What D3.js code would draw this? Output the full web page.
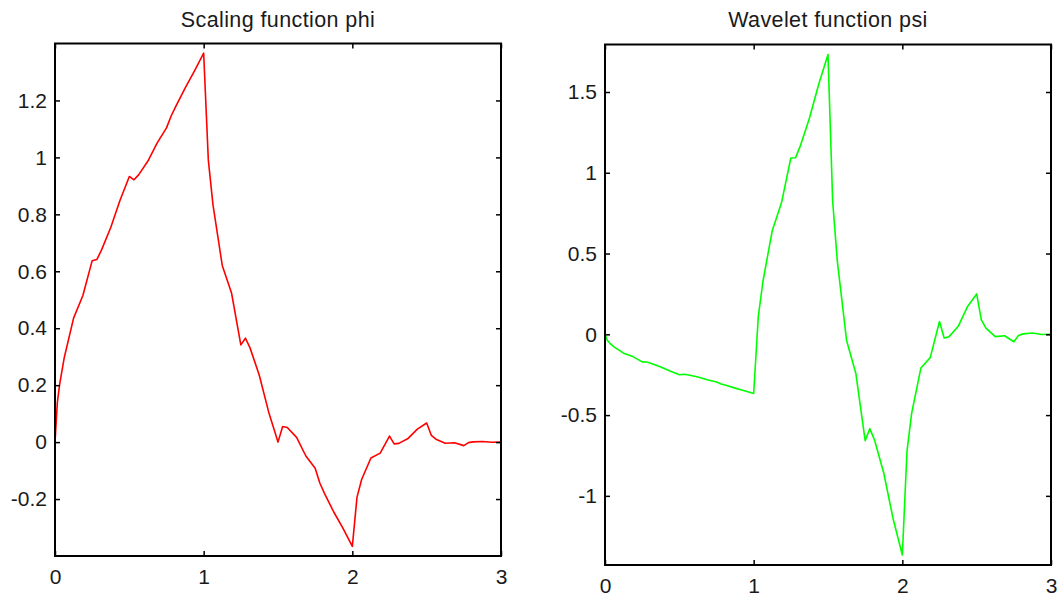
<!DOCTYPE html>
<html>
<head>
<meta charset="utf-8">
<script src="https://cdn.jsdelivr.net/npm/d3@7"></script>
<style>
  body { margin: 0; background: #fff; }
  svg { display: block; }
  .axis text { font-family: "Liberation Sans", Arial, sans-serif; font-size: 21px; fill: #1a1a1a; }
  .axis path, .axis line { stroke: #000; }
  .title { font-family: "Liberation Sans", Arial, sans-serif; font-size: 21.5px; letter-spacing: 0.4px; fill: #1a1a1a; }
</style>
</head>
<body>
<svg id="chart" width="1061" height="597"></svg>
<script>
const tGrid = [0, 0.015625, 0.03125, 0.0625, 0.125, 0.1875, 0.25, 0.28125, 0.3125, 0.375, 0.4375,
    0.5, 0.53125, 0.5625, 0.625, 0.6875, 0.75, 0.78125, 0.8125, 0.875, 0.9375,
    1, 1.03125, 1.0625, 1.125, 1.1875, 1.25, 1.28125, 1.3125, 1.375, 1.4375,
    1.5, 1.53125, 1.5625, 1.625, 1.6875, 1.75, 1.78125, 1.8125, 1.875, 1.9375,
    2, 2.03125, 2.0625, 2.125, 2.1875, 2.25, 2.28125, 2.3125, 2.375, 2.4375,
    2.5, 2.53125, 2.5625, 2.625, 2.6875, 2.75, 2.78125, 2.8125, 2.875, 2.9375, 3];

const phiValues = [0, 0.1387, 0.2030, 0.2973, 0.4353, 0.5149, 0.6373, 0.6412, 0.6742, 0.7539, 0.8492,
    0.9330, 0.9213, 0.9387, 0.9871, 1.0512, 1.1038, 1.1454, 1.1792, 1.2433, 1.3031,
    1.3660, 0.9912, 0.8340, 0.6205, 0.5237, 0.3415, 0.3649, 0.3301, 0.2333, 0.1052,
    0, 0.0547, 0.0511, 0.0167, -0.0488, -0.0915, -0.1435, -0.1799, -0.2455, -0.3027,
    -0.3660, -0.1942, -0.1312, -0.0558, -0.0386, 0.0212, -0.0061, -0.0043, 0.0129, 0.0456,
    0.0670, 0.0240, 0.0102, -0.0039, -0.0024, -0.0123, -0.0019, 0.0007, 0.0022, -0.0004, 0];

const psiValues = [0, -0.0372, -0.0544, -0.0797, -0.1166, -0.1380, -0.1708, -0.1718, -0.1807, -0.2020, -0.2275,
    -0.2500, -0.2469, -0.2515, -0.2645, -0.2817, -0.2958, -0.3069, -0.3160, -0.3331, -0.3492,
    -0.3660, 0.1114, 0.3284, 0.6417, 0.8156, 1.0915, 1.0925, 1.1632, 1.3370, 1.5482,
    1.7321, 0.8251, 0.4545, -0.0380, -0.2430, -0.6585, -0.5840, -0.6532, -0.8583, -1.1403,
    -1.3660, -0.7249, -0.4898, -0.2081, -0.1441, 0.0792, -0.0228, -0.0160, 0.0480, 0.1703,
    0.2500, 0.0896, 0.0381, -0.0145, -0.0088, -0.0458, -0.0070, 0.0027, 0.0084, -0.0015, 0];

const xTicks = [0, 1, 2, 3];
const phiTicks = [-0.2, 0, 0.2, 0.4, 0.6, 0.8, 1, 1.2];
const psiTicks = [-1, -0.5, 0, 0.5, 1, 1.5];
const phiDomain = [-0.4, 1.4];
const psiDomain = [-1.428, 1.794];

const svg = d3.select("#chart");
const fmt = d => String(+d.toFixed(2));

function drawPanel(opts) {
    const { left, right, top, bottom, title, values, yDomain, yTicks, color } = opts;
    const g = svg.append("g");

    const x = d3.scaleLinear().domain([0, 3]).range([left, right]);
    const y = d3.scaleLinear().domain(yDomain).range([bottom, top]);

    // the curve
    const line = d3.line()
        .x((d, i) => x(tGrid[i]))
        .y(d => y(d));
    g.append("path")
        .datum(values)
        .attr("d", line)
        .attr("fill", "none")
        .attr("stroke", color)
        .attr("stroke-width", 1.6)
        .attr("stroke-linejoin", "round");

    // axes with inward ticks (matlab style box)
    g.append("g").attr("class", "axis")
        .attr("transform", `translate(0,${bottom})`)
        .call(d3.axisBottom(x).tickValues(xTicks).tickFormat(fmt).tickSizeInner(-5).tickSizeOuter(0).tickPadding(13));
    g.append("g").attr("class", "axis")
        .attr("transform", `translate(${left},0)`)
        .call(d3.axisLeft(y).tickValues(yTicks).tickFormat(fmt).tickSizeInner(-5).tickSizeOuter(0).tickPadding(8));
    g.append("g").attr("class", "axis")
        .attr("transform", `translate(0,${top})`)
        .call(d3.axisTop(x).tickValues(xTicks).tickFormat("").tickSizeInner(-5).tickSizeOuter(0));
    g.append("g").attr("class", "axis")
        .attr("transform", `translate(${right},0)`)
        .call(d3.axisRight(y).tickValues(yTicks).tickFormat("").tickSizeInner(-5).tickSizeOuter(0));
    g.selectAll(".axis .domain").remove();
    g.selectAll(".axis line").attr("stroke-width", 1.5);

    g.append("rect")
        .attr("x", left).attr("y", top)
        .attr("width", right - left).attr("height", bottom - top)
        .attr("fill", "none")
        .attr("stroke", "#000")
        .attr("stroke-width", 2);

    g.append("text")
        .attr("class", "title")
        .attr("x", (left + right) / 2)
        .attr("y", 27)
        .attr("text-anchor", "middle")
        .text(title);
}

drawPanel({ left: 55, right: 501, top: 43.5, bottom: 556, title: "Scaling function phi",
    values: phiValues, yDomain: phiDomain, yTicks: phiTicks, color: "#ff0000" });
drawPanel({ left: 605, right: 1051, top: 44.5, bottom: 565, title: "Wavelet function psi",
    values: psiValues, yDomain: psiDomain, yTicks: psiTicks, color: "#00ff00" });
</script>
</body>
</html>
